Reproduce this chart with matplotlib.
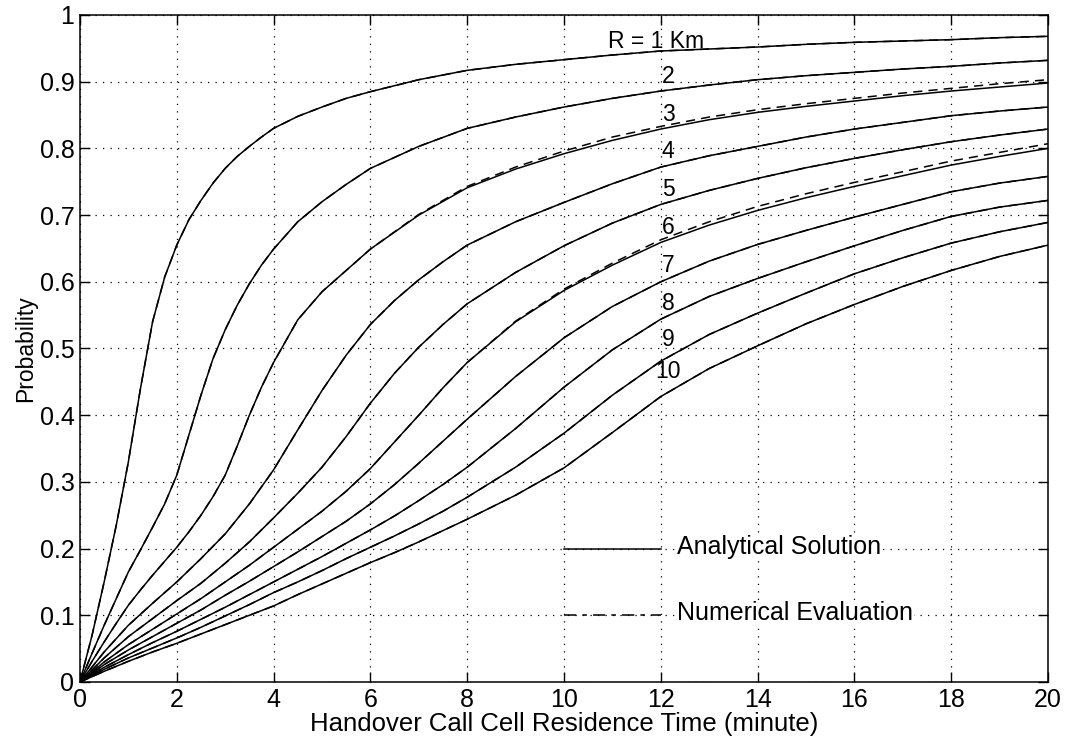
import matplotlib
matplotlib.use("Agg")
import matplotlib.pyplot as plt

plt.rcParams['font.family'] = ['Liberation Sans', 'DejaVu Sans']

# x grid (minutes)
x = [0, 0.5, 1, 1.5, 2, 2.5, 3, 3.5, 4, 4.5, 5, 5.5, 6, 6.5, 7, 7.5, 8, 9, 10, 11, 12, 13, 14, 15, 16, 17, 18, 19, 20]
# finer grid used for the steep curves R = 1, 2, 3
xf = [0, 0.25, 0.5, 0.75, 1, 1.25, 1.5, 1.75, 2, 2.25, 2.5, 2.75, 3, 3.25, 3.5, 3.75, 4, 4.5, 5, 5.5, 6, 7, 8, 9, 10, 11, 12, 13, 14, 15, 16, 17, 18, 19, 20]

# Analytical solution, R = 1..10 Km
r1 = [0, 0.07, 0.15, 0.235, 0.33, 0.44, 0.54, 0.607, 0.655, 0.693, 0.722, 0.748, 0.77, 0.788, 0.803, 0.817, 0.83, 0.848, 0.862, 0.875, 0.885, 0.903, 0.917, 0.926, 0.933, 0.94, 0.946, 0.949, 0.952, 0.956, 0.959, 0.961, 0.963, 0.966, 0.968]
r2 = [0, 0.043, 0.085, 0.125, 0.165, 0.198, 0.232, 0.267, 0.31, 0.37, 0.43, 0.485, 0.528, 0.565, 0.597, 0.625, 0.649, 0.69, 0.72, 0.746, 0.77, 0.803, 0.83, 0.847, 0.862, 0.875, 0.886, 0.895, 0.903, 0.909, 0.914, 0.919, 0.923, 0.928, 0.932]
r3 = [0, 0.031, 0.06, 0.088, 0.115, 0.138, 0.16, 0.181, 0.202, 0.225, 0.25, 0.278, 0.31, 0.354, 0.40, 0.442, 0.479, 0.543, 0.585, 0.617, 0.649, 0.70, 0.741, 0.769, 0.792, 0.812, 0.829, 0.843, 0.854, 0.863, 0.871, 0.879, 0.886, 0.892, 0.898]
r4 = [0, 0.045, 0.085, 0.118, 0.15, 0.185, 0.222, 0.267, 0.318, 0.378, 0.437, 0.49, 0.536, 0.572, 0.603, 0.63, 0.655, 0.69, 0.719, 0.747, 0.772, 0.789, 0.803, 0.817, 0.829, 0.839, 0.849, 0.856, 0.862]
r5 = [0, 0.036, 0.068, 0.095, 0.122, 0.148, 0.178, 0.21, 0.246, 0.283, 0.322, 0.368, 0.418, 0.463, 0.502, 0.536, 0.567, 0.614, 0.654, 0.688, 0.716, 0.737, 0.755, 0.771, 0.785, 0.798, 0.81, 0.82, 0.829]
r6 = [0, 0.03, 0.056, 0.079, 0.102, 0.125, 0.15, 0.175, 0.202, 0.229, 0.256, 0.286, 0.32, 0.36, 0.40, 0.441, 0.479, 0.54, 0.587, 0.625, 0.659, 0.685, 0.707, 0.726, 0.743, 0.759, 0.775, 0.788, 0.80]
r7 = [0, 0.026, 0.048, 0.068, 0.088, 0.108, 0.13, 0.151, 0.173, 0.195, 0.218, 0.241, 0.267, 0.296, 0.328, 0.361, 0.394, 0.458, 0.516, 0.563, 0.60, 0.631, 0.656, 0.677, 0.697, 0.716, 0.735, 0.748, 0.758]
r8 = [0, 0.022, 0.041, 0.059, 0.076, 0.094, 0.112, 0.131, 0.15, 0.169, 0.188, 0.208, 0.228, 0.249, 0.272, 0.296, 0.322, 0.38, 0.442, 0.498, 0.544, 0.578, 0.605, 0.63, 0.654, 0.677, 0.698, 0.712, 0.722]
r9 = [0, 0.019, 0.036, 0.051, 0.066, 0.082, 0.099, 0.116, 0.134, 0.15, 0.167, 0.185, 0.202, 0.219, 0.237, 0.256, 0.277, 0.322, 0.373, 0.43, 0.481, 0.521, 0.553, 0.583, 0.612, 0.636, 0.658, 0.675, 0.689]
r10 = [0, 0.016, 0.031, 0.045, 0.058, 0.072, 0.086, 0.1, 0.114, 0.131, 0.147, 0.163, 0.179, 0.194, 0.21, 0.227, 0.244, 0.28, 0.321, 0.374, 0.428, 0.47, 0.504, 0.537, 0.566, 0.593, 0.617, 0.638, 0.655]

# Numerical evaluation where it visibly departs from the analytical curves
n3 = [0, 0.031, 0.06, 0.088, 0.115, 0.138, 0.16, 0.181, 0.202, 0.225, 0.25, 0.278, 0.31, 0.354, 0.40, 0.442, 0.479, 0.543, 0.585, 0.617, 0.649, 0.701, 0.743, 0.772, 0.796, 0.817, 0.833, 0.847, 0.858, 0.867, 0.875, 0.883, 0.89, 0.897, 0.903]
n6 = [0, 0.03, 0.056, 0.079, 0.102, 0.125, 0.15, 0.175, 0.202, 0.229, 0.256, 0.286, 0.32, 0.36, 0.40, 0.441, 0.479, 0.541, 0.589, 0.628, 0.663, 0.69, 0.713, 0.732, 0.749, 0.765, 0.781, 0.794, 0.807]

analytical = [(xf, r1), (xf, r2), (xf, r3), (x, r4), (x, r5), (x, r6), (x, r7), (x, r8), (x, r9), (x, r10)]
numerical = [(xf, r1), (xf, r2), (xf, n3), (x, r4), (x, r5), (x, n6), (x, r7), (x, r8), (x, r9), (x, r10)]

curve_labels = ["R = 1 Km", "2", "3", "4", "5", "6", "7", "8", "9", "10"]
label_y = [0.96, 0.908, 0.851, 0.795, 0.739, 0.681, 0.625, 0.568, 0.514, 0.466]

xticks = [0, 2, 4, 6, 8, 10, 12, 14, 16, 18, 20]
yticks = [0, 0.1, 0.2, 0.3, 0.4, 0.5, 0.6, 0.7, 0.8, 0.9, 1]
ytick_labels = ["0", "0.1", "0.2", "0.3", "0.4", "0.5", "0.6", "0.7", "0.8", "0.9", "1"]

fig = plt.figure(figsize=(10.69, 7.38), dpi=100)
ax = fig.add_axes([0.0748, 0.0759, 0.9056, 0.9038])

for (xa, ya), (xn, yn) in zip(analytical, numerical):
    ax.plot(xa, ya, color='black', lw=1.1, solid_joinstyle='round')
    ax.plot(xn, yn, color='black', lw=1.1, ls=(0, (6, 4)))

ax.text(10.9, label_y[0], curve_labels[0], fontsize=16.5, ha='left', va='center')
for lab, ly in zip(curve_labels[1:], label_y[1:]):
    ax.text(12.15, ly, lab, fontsize=16.5, ha='center', va='center')

# Legend drawn inside the axes
ax.plot([10, 12], [0.2, 0.2], color='black', lw=1.1)
ax.plot([10, 12], [0.1, 0.1], color='black', lw=1.1, ls=(0, (8, 4, 3, 4)))
ax.text(12.33, 0.203, "Analytical Solution", fontsize=18, ha='left', va='center',
        bbox=dict(facecolor='white', edgecolor='none', pad=0.5))
ax.text(12.33, 0.103, "Numerical Evaluation", fontsize=18, ha='left', va='center',
        bbox=dict(facecolor='white', edgecolor='none', pad=0.5))

ax.set_xlim(0, 20)
ax.set_ylim(0, 1)
ax.set_xticks(xticks)
ax.set_yticks(yticks)
ax.set_yticklabels(ytick_labels)
ax.grid(True, color='black', ls=(0, (1, 5)), lw=0.9)
ax.set_axisbelow(True)
ax.tick_params(direction='in', length=7, width=1, top=True, right=True,
               labelsize=18, pad=4)
for sp in ax.spines.values():
    sp.set_linewidth(1.1)

ax.set_xlabel("Handover Call Cell Residence Time (minute)", fontsize=18.5, labelpad=0)
ax.set_ylabel("Probability", fontsize=16.5, labelpad=2)

fig.savefig("out.png", dpi=100)
